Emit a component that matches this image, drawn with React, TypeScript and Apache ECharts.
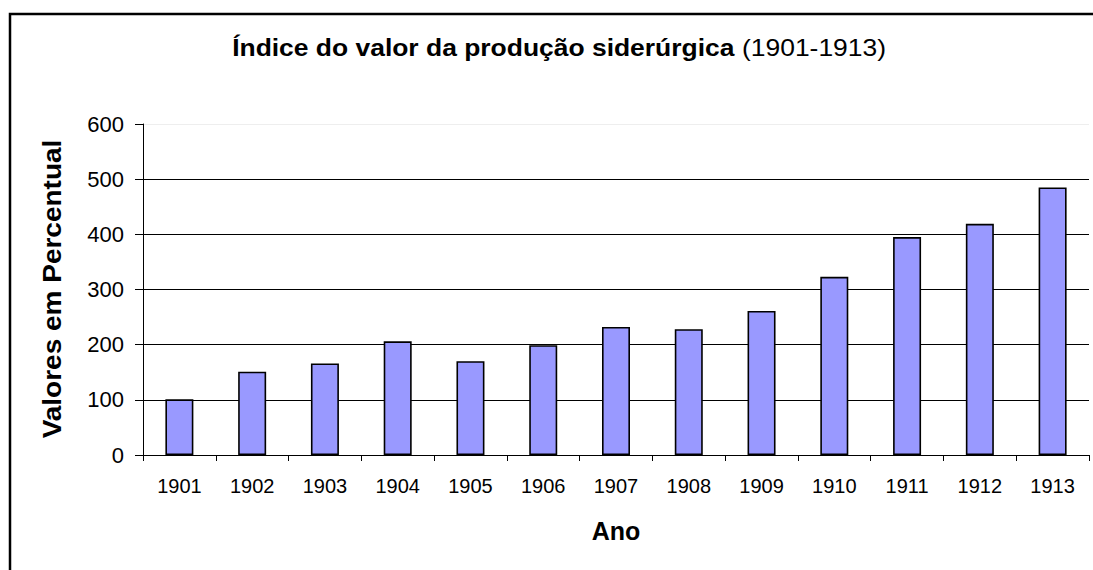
import React, { useEffect, useRef } from "react";
import * as echarts from "echarts";

const categories = ["1901", "1902", "1903", "1904", "1905", "1906", "1907", "1908", "1909", "1910", "1911", "1912", "1913"];
const values = [101, 151, 166, 206, 170, 199, 232, 228, 261, 323, 395, 419, 485];
const titleBold = "Índice do valor da produção siderúrgica";
const titleNormal = " (1901-1913)";
const yAxisName = "Valores em Percentual";
const xAxisName = "Ano";

export default function App() {
  const ref = useRef<HTMLDivElement>(null);
  useEffect(() => {
    document.body.style.margin = "0";
    const chart = echarts.init(ref.current!, null, { renderer: "svg" });
    const font = "'Liberation Sans', Arial, sans-serif";
    chart.setOption({
      animation: false,
      backgroundColor: "#fff",
      textStyle: { fontFamily: font },
      graphic: [
        {
          type: "rect",
          shape: { x: 10, y: 14, width: 1200, height: 700 },
          style: { fill: "none", stroke: "#000", lineWidth: 2.5 },
          silent: true,
        },
        {
          type: "text",
          x: 559,
          y: 48,
          scaleX: 1.15,
          style: {
            text: `{b|${titleBold}}{n|${titleNormal}}`,
            align: "center",
            verticalAlign: "middle",
            rich: {
              b: { fontFamily: font, fontWeight: "bold", fontSize: 23, fill: "#000" },
              n: { fontFamily: font, fontWeight: "normal", fontSize: 23, fill: "#000" },
            },
          },
          silent: true,
        },
        {
          type: "text",
          x: 53,
          y: 289,
          rotation: Math.PI / 2,
          scaleX: 1.12,
          style: {
            text: yAxisName,
            align: "center",
            verticalAlign: "middle",
            fontFamily: font,
            fontWeight: "bold",
            fontSize: 25,
            fill: "#000",
          },
          silent: true,
        },
      ],
      grid: { left: 143, right: 4, top: 124, bottom: 115, containLabel: false },
      xAxis: {
        type: "category",
        data: categories,
        name: xAxisName,
        nameLocation: "middle",
        nameGap: 63,
        nameTextStyle: { fontFamily: font, fontWeight: "bold", fontSize: 25, color: "#000" },
        axisLine: { lineStyle: { color: "#000", width: 1 } },
        axisTick: { show: true, alignWithLabel: false, length: 6, lineStyle: { color: "#000" } },
        axisLabel: { fontFamily: font, fontSize: 20, color: "#000", margin: 21 },
      },
      yAxis: {
        type: "value",
        min: 0,
        max: 600,
        interval: 100,
        axisLine: { show: true, lineStyle: { color: "#000", width: 1 } },
        axisTick: { show: true, length: 8, lineStyle: { color: "#000" } },
        axisLabel: { fontFamily: font, fontSize: 22, color: "#000", margin: 19 },
        splitLine: {
          show: true,
          lineStyle: { color: ["#000", "#000", "#000", "#000", "#000", "#000", "#eeeeee"], width: 1 },
        },
      },
      series: [
        {
          type: "bar",
          data: values,
          barWidth: 28,
          itemStyle: { color: "#9999FF", borderColor: "#000", borderWidth: 1.6 },
        },
      ],
    });
    return () => chart.dispose();
  }, []);
  return <div ref={ref} style={{ width: 1093, height: 570 }} />;
}
